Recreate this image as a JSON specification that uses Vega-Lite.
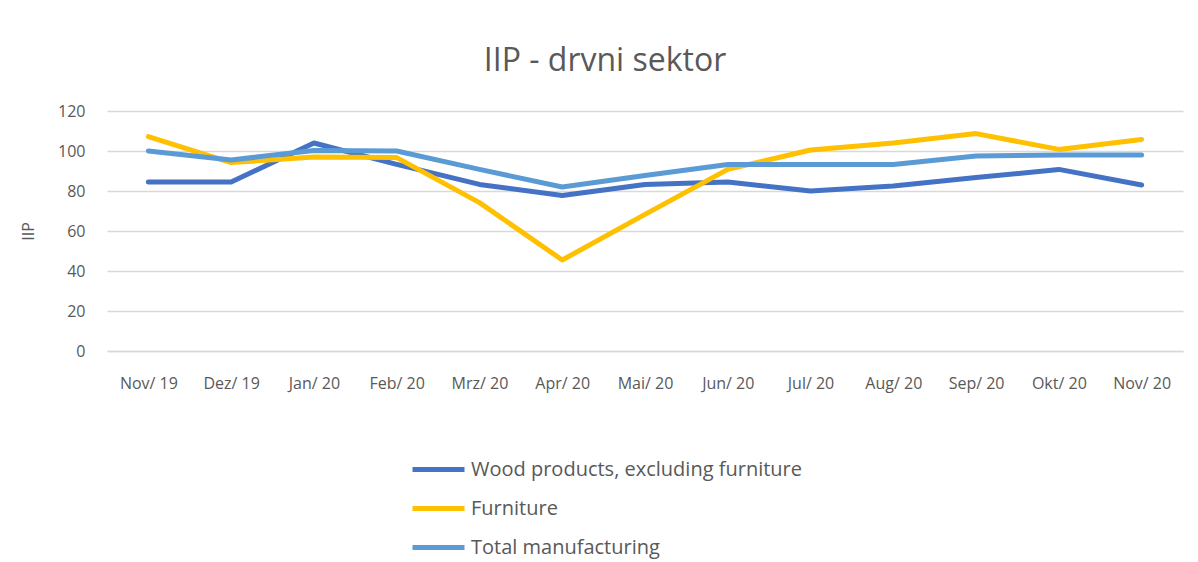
{
  "$schema": "https://vega.github.io/schema/vega-lite/v6.json",
  "autosize": "none",
  "width": 1076,
  "height": 240,
  "padding": {"left": 107, "top": 111, "right": 15, "bottom": 211},
  "background": "white",
  "title": {
    "text": "IIP - drvni sektor",
    "fontSize": 32,
    "font": "Open Sans",
    "fontWeight": "normal",
    "color": "#595959",
    "anchor": "middle",
    "dx": -40,
    "offset": 25
  },
  "config": {
    "view": {"stroke": null},
    "font": "Open Sans"
  },
  "data": {
    "values": [
      {"month": "Nov/ 19", "series": "Wood products, excluding furniture", "value": 84.5},
      {"month": "Dez/ 19", "series": "Wood products, excluding furniture", "value": 84.5},
      {"month": "Jan/ 20", "series": "Wood products, excluding furniture", "value": 104},
      {"month": "Feb/ 20", "series": "Wood products, excluding furniture", "value": 93.3},
      {"month": "Mrz/ 20", "series": "Wood products, excluding furniture", "value": 83.3},
      {"month": "Apr/ 20", "series": "Wood products, excluding furniture", "value": 77.8},
      {"month": "Mai/ 20", "series": "Wood products, excluding furniture", "value": 83.3},
      {"month": "Jun/ 20", "series": "Wood products, excluding furniture", "value": 84.5},
      {"month": "Jul/ 20", "series": "Wood products, excluding furniture", "value": 80},
      {"month": "Aug/ 20", "series": "Wood products, excluding furniture", "value": 82.5},
      {"month": "Sep/ 20", "series": "Wood products, excluding furniture", "value": 86.7},
      {"month": "Okt/ 20", "series": "Wood products, excluding furniture", "value": 90.8},
      {"month": "Nov/ 20", "series": "Wood products, excluding furniture", "value": 83},
      {"month": "Nov/ 19", "series": "Furniture", "value": 107.2},
      {"month": "Dez/ 19", "series": "Furniture", "value": 94.2},
      {"month": "Jan/ 20", "series": "Furniture", "value": 97},
      {"month": "Feb/ 20", "series": "Furniture", "value": 96.7},
      {"month": "Mrz/ 20", "series": "Furniture", "value": 74.2},
      {"month": "Apr/ 20", "series": "Furniture", "value": 45.5},
      {"month": "Mai/ 20", "series": "Furniture", "value": 68.3},
      {"month": "Jun/ 20", "series": "Furniture", "value": 90.8},
      {"month": "Jul/ 20", "series": "Furniture", "value": 100.5},
      {"month": "Aug/ 20", "series": "Furniture", "value": 104},
      {"month": "Sep/ 20", "series": "Furniture", "value": 108.7},
      {"month": "Okt/ 20", "series": "Furniture", "value": 100.8},
      {"month": "Nov/ 20", "series": "Furniture", "value": 105.8},
      {"month": "Nov/ 19", "series": "Total manufacturing", "value": 100},
      {"month": "Dez/ 19", "series": "Total manufacturing", "value": 95.5},
      {"month": "Jan/ 20", "series": "Total manufacturing", "value": 100.3},
      {"month": "Feb/ 20", "series": "Total manufacturing", "value": 100},
      {"month": "Mrz/ 20", "series": "Total manufacturing", "value": 90.8},
      {"month": "Apr/ 20", "series": "Total manufacturing", "value": 82},
      {"month": "Mai/ 20", "series": "Total manufacturing", "value": 87.8},
      {"month": "Jun/ 20", "series": "Total manufacturing", "value": 93.3},
      {"month": "Jul/ 20", "series": "Total manufacturing", "value": 93.3},
      {"month": "Aug/ 20", "series": "Total manufacturing", "value": 93.3},
      {"month": "Sep/ 20", "series": "Total manufacturing", "value": 97.5},
      {"month": "Okt/ 20", "series": "Total manufacturing", "value": 98},
      {"month": "Nov/ 20", "series": "Total manufacturing", "value": 98}
    ]
  },
  "mark": {"type": "line", "strokeWidth": 5, "strokeCap": "round", "strokeJoin": "round"},
  "encoding": {
    "x": {
      "field": "month",
      "type": "ordinal",
      "sort": ["Nov/ 19", "Dez/ 19", "Jan/ 20", "Feb/ 20", "Mrz/ 20", "Apr/ 20", "Mai/ 20", "Jun/ 20", "Jul/ 20", "Aug/ 20", "Sep/ 20", "Okt/ 20", "Nov/ 20"],
      "scale": {"type": "point", "padding": 0.5},
      "axis": {
        "title": null,
        "labelAngle": 0,
        "labelFontSize": 16,
        "labelColor": "#595959",
        "labelFont": "Open Sans",
        "labelPadding": 24,
        "ticks": false,
        "domain": true,
        "domainColor": "#d9d9d9",
        "domainWidth": 1.5,
        "grid": false
      }
    },
    "y": {
      "field": "value",
      "type": "quantitative",
      "scale": {"domain": [0, 120], "nice": false},
      "axis": {
        "title": "IIP",
        "titleFontSize": 16,
        "titleFontWeight": "normal",
        "titleColor": "#595959",
        "titleFont": "Open Sans",
        "titlePadding": 21,
        "values": [0, 20, 40, 60, 80, 100, 120],
        "labelFontSize": 16,
        "labelColor": "#595959",
        "labelFont": "Open Sans",
        "labelPadding": 22,
        "ticks": false,
        "domain": false,
        "grid": true,
        "gridColor": "#d9d9d9",
        "gridWidth": 1.5
      }
    },
    "color": {
      "field": "series",
      "type": "nominal",
      "sort": ["Wood products, excluding furniture", "Furniture", "Total manufacturing"],
      "scale": {"range": ["#4472C4", "#FFC000", "#5B9BD5"]},
      "legend": {
        "title": null,
        "orient": "none",
        "legendX": 303,
        "legendY": 330,
        "direction": "vertical",
        "symbolType": "stroke",
        "symbolSize": 2704,
        "symbolStrokeWidth": 5,
        "labelFontSize": 20,
        "labelColor": "#595959",
        "labelFont": "Open Sans",
        "labelOffset": 4,
        "rowPadding": 0,
        "labelLimit": 600
      }
    }
  }
}
